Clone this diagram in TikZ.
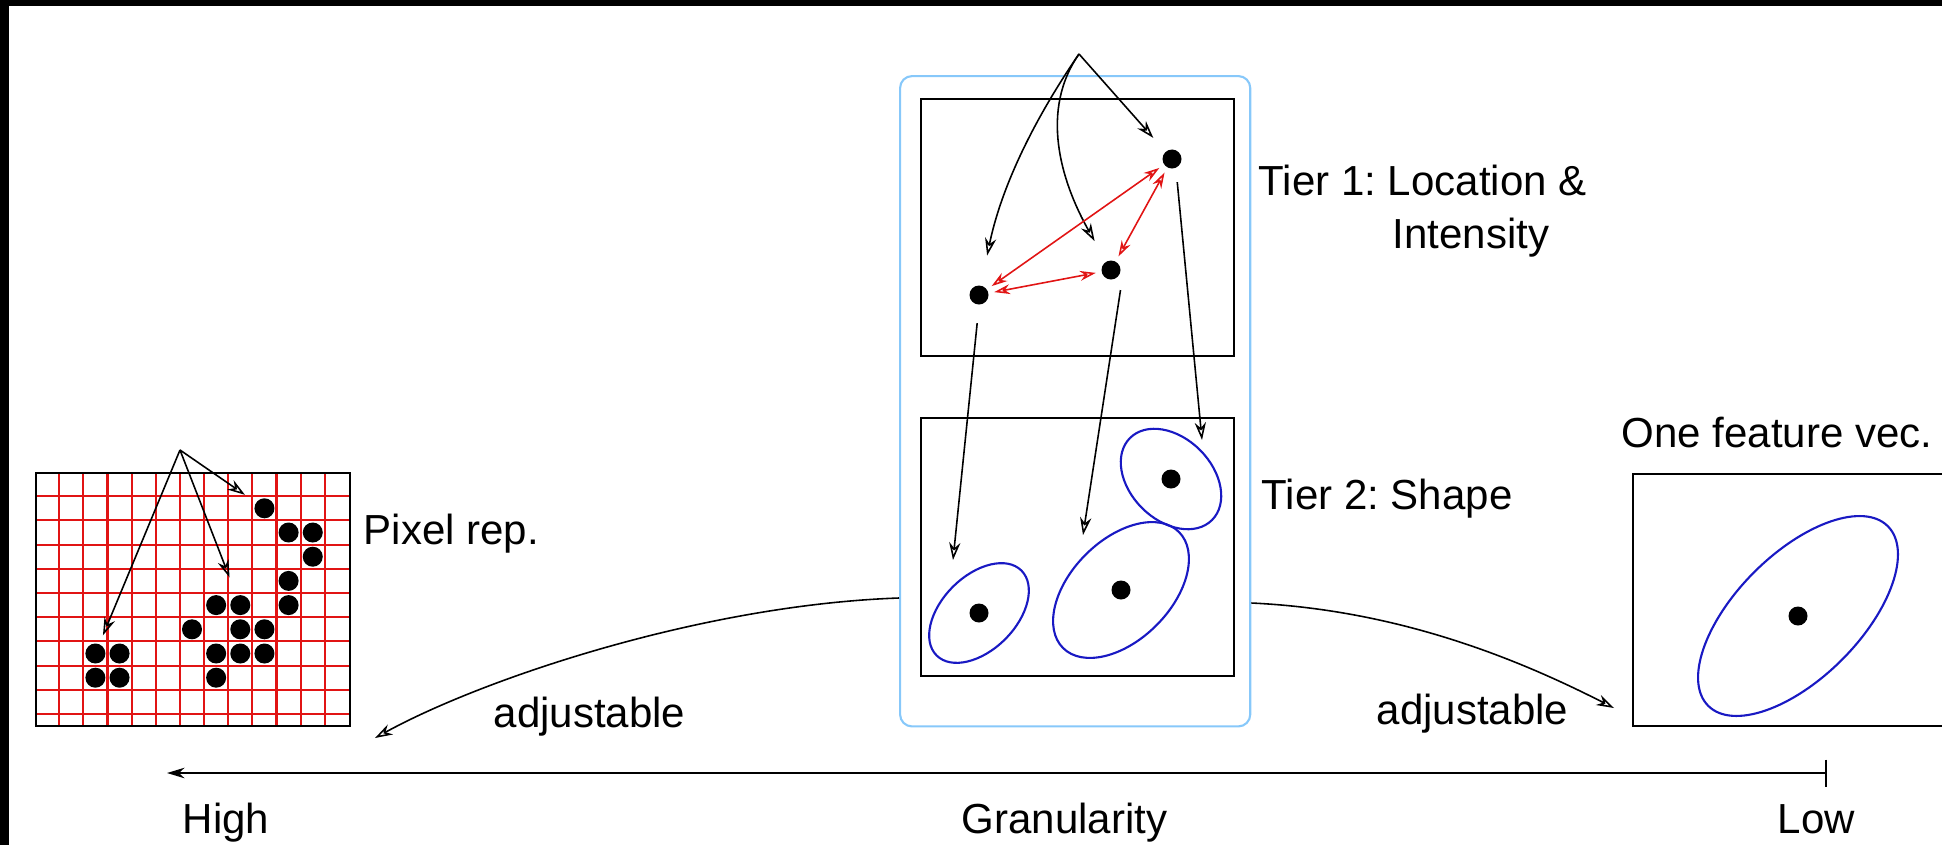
\documentclass[tikz,border=0pt]{standalone}
\usepackage{fontspec}
\setmainfont{Liberation Sans}
\usetikzlibrary{arrows.meta}

\definecolor{paneblue}{RGB}{135,200,250}
\definecolor{blobblue}{RGB}{25,25,195}
\definecolor{gridred}{RGB}{225,20,20}

\begin{document}
\begin{tikzpicture}[
    x = 0.01cm,
    y = -0.01cm,
    font = \fontsize{11.95}{14}\selectfont\frenchspacing,
    panel/.style = {
        rectangle,
        draw = black,
        line width = 0.6pt,
        inner sep = 0pt,
        anchor = north west
    },
    blackdot/.style = {
        circle,
        fill = black,
        inner sep = 0pt,
        minimum size = 0.19cm
    },
    txt/.style = {
        anchor = base west,
        inner sep = 0pt
    },
    arrow/.style = {
        -{Stealth[open, length = 5pt, width = 3.2pt]},
        line width = 0.45pt
    },
    link/.style = {
        {Stealth[open, length = 4.5pt, width = 2.8pt]}-{Stealth[open, length = 4.5pt, width = 2.8pt]},
        gridred,
        line width = 0.45pt,
        shorten <= 1.5pt,
        shorten >= 1.5pt
    },
    blob/.style = {
        draw = blobblue,
        line width = 0.6pt
    },
    pixline/.style = {
        gridred,
        line width = 0.6pt
    }
]
    \useasboundingbox (0,0) rectangle (1942,845);
    \fill [black] (0,0) rectangle (1942,6);
    \fill [black] (0,0) rectangle (9,845);

    % Pixel rep.
    \foreach \i in {1,...,12}
        \draw [pixline] (35+24.15*\i,472) -- (35+24.15*\i,725);
    \foreach \j in {1,...,10}
        \draw [pixline] (35,472+24.2*\j) -- (349,472+24.2*\j);
    \node [panel, minimum width = 3.14cm, minimum height = 2.53cm] (pix) at (35,472) {};
    \foreach \col/\row in {9/1, 10/2, 11/2, 11/3, 10/4, 10/5, 7/5, 8/5, 6/6, 8/6, 9/6,
                           7/7, 8/7, 9/7, 7/8, 2/7, 3/7, 2/8, 3/8}
        \node [blackdot, minimum size = 0.2cm] (px\col-\row)
            at (35+24.15*\col+12.1,472+24.2*\row+12.1) {};
    \coordinate (pixtop) at (180,450);
    \node [txt] (pixlabel) at (363,544) {Pixel rep.};

    % Tiers
    \node [panel, draw = paneblue, rounded corners = 0.12cm,
           minimum width = 3.5cm, minimum height = 6.5cm] (group) at (899,75) {};
    \node [panel, minimum width = 3.13cm, minimum height = 2.57cm] (tier1) at (920,98) {};
    \node [panel, minimum width = 3.13cm, minimum height = 2.58cm] (tier2) at (920,417) {};
    \node [txt] (tier1label) at (1258,195) {Tier 1: Location \&};
    \node [txt] (tier1more) at (1392,248) {Intensity};
    \node [txt] (tier2label) at (1261,509) {Tier 2: Shape};

    \node [blackdot] (dA) at (979,295) {};
    \node [blackdot] (dB) at (1111,270) {};
    \node [blackdot] (dC) at (1172,159) {};
    \node [blackdot] (dD) at (979,613) {};
    \node [blackdot] (dE) at (1121,590) {};
    \node [blackdot] (dF) at (1171,479) {};
    \draw [blob, rotate around = {45:(dD)}] (dD) ellipse [x radius = 60, y radius = 37];
    \draw [blob, rotate around = {45:(dE)}] (dE) ellipse [x radius = 82, y radius = 50];
    \draw [blob, rotate around = {-45:(dF)}] (dF) ellipse [x radius = 58, y radius = 41];

    % One feature vec.
    \begin{scope}
        \clip (0,0) rectangle (1942,845);
        \node [panel, minimum width = 4cm, minimum height = 2.52cm] (vecbox) at (1632,473) {};
    \end{scope}
    \node [txt] (veclabel) at (1621,447) {One feature vec.};
    \node [blackdot] (dV) at (1798,616) {};
    \draw [blob, rotate around = {45:(dV)}] (dV) ellipse [x radius = 127, y radius = 62];

    % Arrows
    \draw [arrow, shorten >= 0.09cm] (pixtop) -- (px2-7);
    \draw [arrow, shorten >= 0.19cm] (pixtop) -- (px8-5);
    \draw [arrow, shorten >= 0.13cm] (pixtop) -- (px9-1);

    \coordinate (tiertop) at (1079,54);
    \draw [arrow, shorten >= 0.3cm] (tiertop) .. controls (1033,121) and (1001,188) .. (dA);
    \draw [arrow, shorten >= 0.23cm] (tiertop) .. controls (1040,110) and (1060,180) .. (dB);
    \draw [arrow, shorten >= 0.18cm] (tiertop) -- (dC);

    \draw [link] (dA) -- (dC);
    \draw [link] (dA) -- (dB);
    \draw [link] (dB) -- (dC);

    \coordinate (a2) at (953,560);
    \coordinate (b2) at (1083,535);
    \coordinate (c2) at (1202,440);
    \draw [arrow, shorten <= 0.18cm] (dA.south) -- (a2);
    \draw [arrow, shorten <= 0.1cm] ([xshift = 0.11cm]dB.south) -- (b2);
    \draw [arrow, shorten <= 0.13cm] ([xshift = 0.04cm]dC.south) -- (c2);

    \coordinate (pixend) at (375,738);
    \coordinate (vecend) at (1614,708);
    \draw [arrow] (group.west |- 0,598) .. controls (700,605) and (480,680) .. (pixend);
    \draw [arrow] (group.east |- 0,603) .. controls (1400,610) and (1520,660) .. (vecend);
    \node [txt] (adjleft) at (493,727) {adjustable};
    \node [txt] (adjright) at (1376,724) {adjustable};

    % Granularity axis
    \coordinate (lowtick) at (1827,773);
    \coordinate (hightip) at (167,773);
    \draw [{Bar[width = 0.27cm]}-{Stealth[length = 5pt, width = 3pt]}, line width = 0.55pt]
        (lowtick) -- (hightip);
    \node [txt] (high) at (182,833) {High};
    \node [txt] (gran) at (961,833) {Granularity};
    \node [txt] (low) at (1777,833) {Low};
\end{tikzpicture}
\end{document}
